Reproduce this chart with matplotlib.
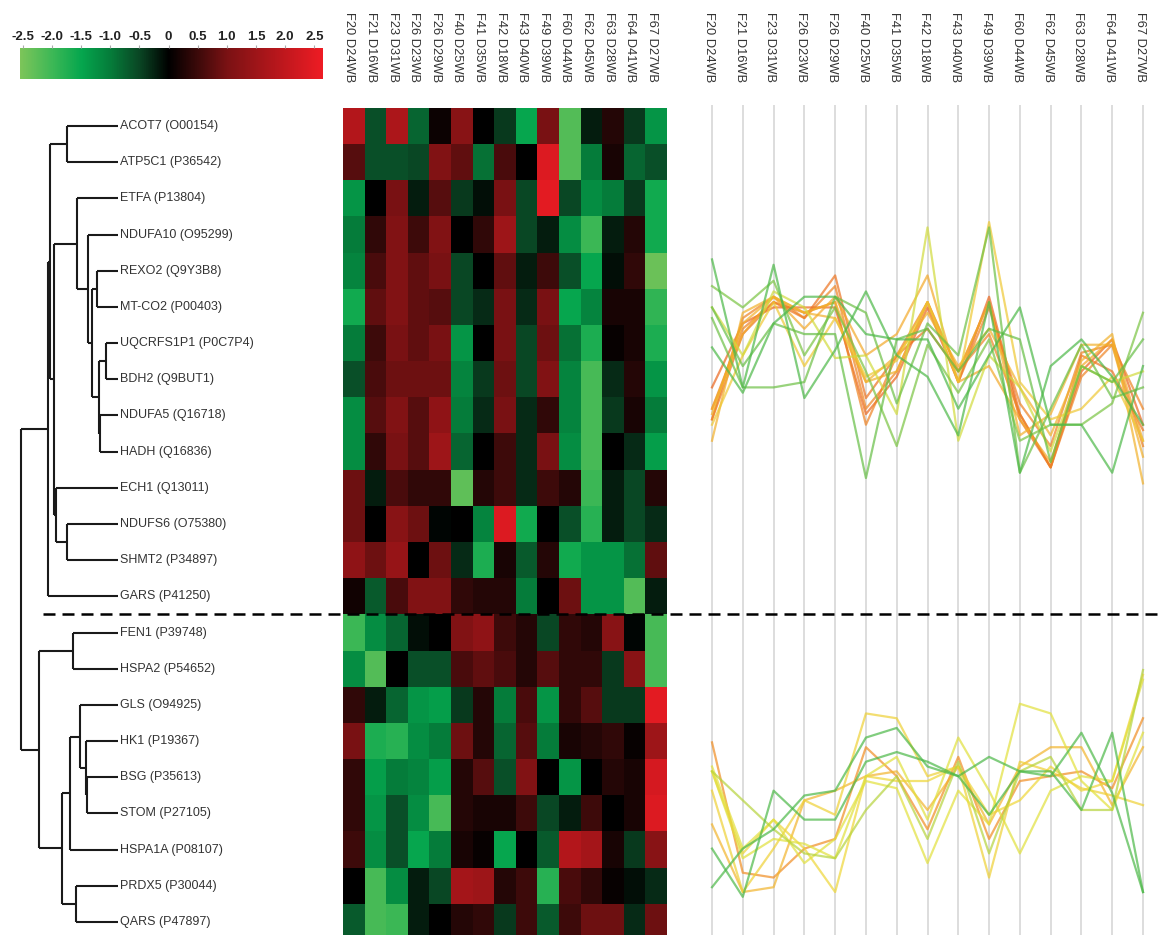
import matplotlib
matplotlib.use("Agg")
import matplotlib.pyplot as plt
import matplotlib.transforms as mtransforms
from matplotlib.colors import LinearSegmentedColormap, Normalize
import numpy as np

plt.rcParams["font.family"] = ["Liberation Sans", "DejaVu Sans"]

#
# Data
#
samples = ["F20 D24WB", "F21 D16WB", "F23 D31WB", "F26 D23WB", "F26 D29WB",
           "F40 D25WB", "F41 D35WB", "F42 D18WB", "F43 D40WB", "F49 D39WB",
           "F60 D44WB", "F62 D45WB", "F63 D28WB", "F64 D41WB", "F67 D27WB"]

top_genes = ["ACOT7 (O00154)", "ATP5C1 (P36542)", "ETFA (P13804)", "NDUFA10 (O95299)",
             "REXO2 (Q9Y3B8)", "MT-CO2 (P00403)", "UQCRFS1P1 (P0C7P4)", "BDH2 (Q9BUT1)",
             "NDUFA5 (Q16718)", "HADH (Q16836)", "ECH1 (Q13011)", "NDUFS6 (O75380)",
             "SHMT2 (P34897)", "GARS (P41250)"]
bottom_genes = ["FEN1 (P39748)", "HSPA2 (P54652)", "GLS (O94925)", "HK1 (P19367)",
                "BSG (P35613)", "STOM (P27105)", "HSPA1A (P08107)", "PRDX5 (P30044)",
                "QARS (P47897)"]

top_values = [
    [1.8, -0.6, 1.7, -0.8, 0.1, 1.2, 0.0, -0.4, -1.5, 1.0, -2.2, -0.2, 0.3, -0.4, -1.3],
    [0.7, -0.6, -0.6, -0.5, 1.1, 0.8, -0.9, 0.6, 0.0, 2.4, -2.2, -1.0, 0.2, -0.8, -0.6],
    [-1.3, 0.0, 1.0, -0.2, 0.7, -0.4, -0.1, 1.0, -0.5, 2.5, -0.5, -1.2, -1.0, -0.4, -1.6],
    [-1.0, 0.4, 1.1, 0.5, 1.1, 0.0, 0.4, 1.5, -0.5, -0.2, -1.2, -2.0, -0.2, 0.3, -1.6],
    [-1.1, 0.6, 1.1, 0.8, 1.0, -0.5, 0.0, 0.8, -0.2, 0.5, -0.6, -1.5, -0.1, 0.4, -2.4],
    [-1.6, 0.8, 1.1, 0.8, 0.7, -0.5, -0.3, 1.0, -0.3, 1.0, -1.5, -1.1, 0.2, 0.2, -1.9],
    [-1.0, 0.5, 1.0, 0.8, 1.0, -1.3, 0.0, 1.0, -0.5, 0.9, -0.9, -1.7, 0.05, 0.2, -1.7],
    [-0.6, 0.6, 0.9, 0.9, 0.9, -1.1, -0.4, 0.9, -0.5, 1.1, -1.1, -2.1, -0.3, 0.3, -1.3],
    [-1.2, 0.7, 1.1, 0.7, 1.3, -1.0, -0.3, 1.0, -0.3, 0.4, -1.1, -2.1, -0.4, 0.2, -1.0],
    [-1.2, 0.4, 1.0, 0.7, 1.5, -0.8, 0.0, 0.5, -0.3, 1.0, -1.2, -2.1, 0.0, -0.3, -1.4],
    [0.9, -0.2, 0.6, 0.4, 0.4, -2.3, 0.3, 0.5, -0.3, 0.5, 0.3, -2.0, -0.2, -0.5, 0.3],
    [0.9, 0.0, 1.2, 0.9, -0.05, 0.0, -1.1, 2.4, -1.6, 0.0, -0.6, -1.8, -0.2, -0.5, -0.3],
    [1.3, 0.9, 1.4, 0.0, 0.9, -0.3, -1.7, 0.2, -0.7, 0.3, -1.6, -1.3, -1.3, -0.9, 0.8],
    [0.15, -0.7, 0.6, 1.1, 1.1, 0.4, 0.3, 0.3, -1.0, 0.0, 0.9, -1.3, -1.3, -2.2, -0.2],
]
bottom_values = [
    [-2.0, -1.2, -0.8, -0.1, 0.0, 1.1, 1.3, 0.5, 0.3, -0.5, 0.4, 0.3, 1.2, -0.05, -2.1],
    [-1.2, -2.2, 0.0, -0.6, -0.6, 0.6, 0.8, 0.6, 0.3, 0.7, 0.4, 0.4, -0.4, 1.2, -2.1],
    [0.4, -0.2, -0.8, -1.3, -1.4, -0.4, 0.3, -1.0, 0.6, -1.3, 0.4, 0.7, -0.4, -0.4, 2.5],
    [1.0, -1.7, -1.8, -1.2, -1.0, 0.9, 0.3, -0.8, 0.7, -1.0, 0.2, 0.3, 0.4, 0.05, 1.5],
    [0.4, -1.4, -1.0, -1.1, -1.4, 0.3, 0.7, -0.6, 1.1, 0.0, -1.3, 0.0, 0.3, 0.2, 2.3],
    [0.4, -1.3, -0.6, -1.2, -2.1, 0.3, 0.2, 0.2, 0.5, -0.5, -0.2, 0.5, 0.0, 0.2, 2.4],
    [0.5, -1.2, -0.6, -1.5, -1.0, 0.2, 0.05, -1.5, 0.0, -0.7, 1.8, 1.6, 0.2, -0.4, 1.2],
    [0.0, -2.1, -1.2, -0.2, -0.5, 1.6, 1.5, 0.3, 0.5, -1.8, 0.6, 0.4, 0.05, -0.1, -0.3],
    [-0.7, -2.1, -2.0, -0.2, 0.0, 0.3, 0.4, -0.4, 0.5, -0.7, 0.5, 0.9, 0.9, -0.3, 0.9],
]

# Dendrogram merges (scipy style): leaf ids 0..22, merge k gets id 23 + k
merges = [
    (0, 1, 51), (4, 5, 21), (6, 7, 12), (8, 9, 18), (25, 26, 19), (24, 27, 26),
    (3, 28, 30), (2, 29, 41), (11, 12, 51), (10, 31, 62), (30, 32, 64), (23, 33, 68),
    (34, 13, 70), (14, 15, 45), (18, 19, 31), (17, 37, 32), (16, 38, 38), (39, 20, 48),
    (21, 22, 42), (40, 41, 56), (36, 42, 79), (35, 43, 97),
]

cbar_ticks = [-2.5, -2.0, -1.5, -1.0, -0.5, 0, 0.5, 1.0, 1.5, 2.0, 2.5]
cbar_labels = ["-2.5", "-2.0", "-1.5", "-1.0", "-0.5", "0", "0.5", "1.0", "1.5", "2.0", "2.5"]

#
# Styling
#
W, H = 1161, 935
vmin, vmax = -2.55, 2.65
stops = [(-2.55, "#7cc55a"), (-2.0, "#3cb856"), (-1.5, "#05a64e"), (-1.0, "#067c3a"),
         (-0.5, "#0a4624"), (0.0, "#000000"), (0.5, "#3c0a0a"), (1.0, "#7a1214"),
         (2.65, "#ee1c24")]
heat_cmap = LinearSegmentedColormap.from_list(
    "gbr", [((v - vmin) / (vmax - vmin), c) for v, c in stops])
line_cmap = LinearSegmentedColormap.from_list(
    "lines", ["#4cb848", "#6cc044", "#b4d23c", "#ece43c", "#f3a828", "#e9561a"])
text_color = "#333333"

fig = plt.figure(figsize=(W / 100, H / 100), dpi=100)


def px_axes(x0, y0, x1, y1):
    return fig.add_axes([x0 / W, 1 - y1 / H, (x1 - x0) / W, (y1 - y0) / H])


values = np.array(top_values + bottom_values)
genes = top_genes + bottom_genes
n_rows, n_cols = values.shape

# Dendrogram
ax_d = px_axes(0, 108, 343, 940)
ax_d.set_xlim(118, 118 - 343)
ax_d.set_ylim(n_rows - 0.5, -0.5)
ax_d.axis("off")
node_y = {i: float(i) for i in range(n_rows)}
node_h = {i: 0.0 for i in range(n_rows)}
for k, (a, b, h) in enumerate(merges):
    nid = n_rows + k
    ax_d.plot([h, h], [node_y[a], node_y[b]], color="#1a1a1a", lw=1.5, solid_capstyle="butt")
    for c in (a, b):
        ax_d.plot([node_h[c], h], [node_y[c], node_y[c]], color="#1a1a1a", lw=1.5,
                  solid_capstyle="butt")
    node_y[nid] = (node_y[a] + node_y[b]) / 2
    node_h[nid] = h
for i, g in enumerate(genes):
    ax_d.text(-2, i, g, ha="left", va="center", fontsize=9, color=text_color)

# Heatmap
ax_h = px_axes(343, 108, 667, 940)
ax_h.imshow(values, cmap=heat_cmap, vmin=vmin, vmax=vmax, aspect="auto",
            interpolation="nearest")
ax_h.axis("off")
trans_h = mtransforms.blended_transform_factory(ax_h.transData, fig.transFigure)
for j, s in enumerate(samples):
    ax_h.text(j - 0.2, 1 - 12 / H, s, transform=trans_h, rotation=-90, ha="center",
              va="top", fontsize=9.25, color=text_color)

# Colour bar
ax_c = px_axes(20, 48, 323, 79)
grad = np.linspace(vmin, vmax, 400)[None, :]
ax_c.imshow(grad, cmap=heat_cmap, vmin=vmin, vmax=vmax, aspect="auto",
            extent=[vmin, vmax, 0, 1])
ax_c.set_xlim(vmin, vmax)
ax_c.set_yticks([])
ax_c.xaxis.tick_top()
ax_c.set_xticks(cbar_ticks)
ax_c.set_xticklabels(cbar_labels, fontsize=9.5, fontweight="bold", color="#222222")
ax_c.tick_params(axis="x", length=2, color="#aaaaaa", pad=1.5)
for sp in ax_c.spines.values():
    sp.set_visible(False)

# Profile lines
xs = np.arange(n_cols)
ax_g = px_axes(700, 105, 1155, 935)
ax_g.set_xlim(-0.39, n_cols - 1 + 0.39)
ax_g.axis("off")
for x in xs:
    ax_g.axvline(x, color="#dadada", lw=1.3)
trans_g = mtransforms.blended_transform_factory(ax_g.transData, fig.transFigure)
for j, s in enumerate(samples):
    ax_g.text(j - 0.1, 1 - 12 / H, s, transform=trans_g, rotation=-90, ha="center",
              va="top", fontsize=9.25, color=text_color)

panels = [(top_values, (108, 614), (-4.85, 4.64)), (bottom_values, (614, 935), (-2.99, 3.66))]
for rows, (y0, y1), ylim in panels:
    ax = px_axes(700, y0, 1155, y1)
    ax.patch.set_alpha(0)
    ax.set_xlim(-0.39, n_cols - 1 + 0.39)
    ax.set_ylim(*ylim)
    ax.axis("off")
    block = np.array(rows)
    centroid = block.mean(axis=0)
    corr = [np.corrcoef(r, centroid)[0, 1] for r in block]
    order = np.argsort(corr)[::-1]
    for i in order:
        col = line_cmap(Normalize(0.45, 0.97, clip=True)(corr[i]))
        ax.plot(xs, block[i], color=col, lw=1.6, alpha=0.7, clip_on=False)

# Split between the two clusters
ax_o = px_axes(0, 0, W, H)
ax_o.patch.set_alpha(0)
ax_o.set_xlim(0, W)
ax_o.set_ylim(H, 0)
ax_o.axis("off")
ax_o.plot([43, W], [614, 614], color="black", lw=1.8, dashes=(4.8, 2.8))

fig.savefig("out.png", dpi=100)
